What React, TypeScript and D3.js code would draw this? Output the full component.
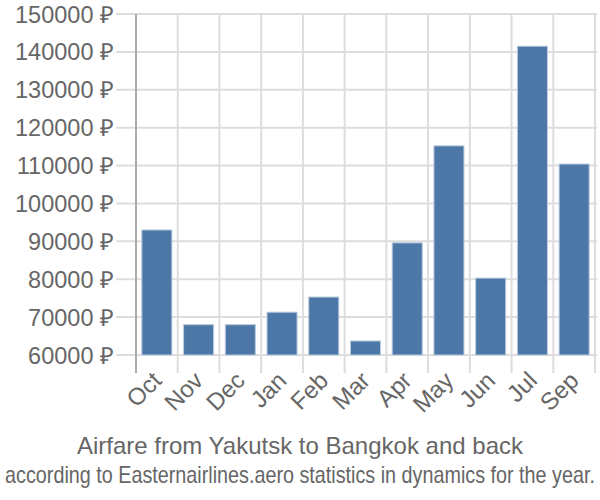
import { useEffect, useRef } from "react";
import * as d3 from "d3";

const months = ["Oct", "Nov", "Dec", "Jan", "Feb", "Mar", "Apr", "May", "Jun", "Jul", "Sep"];
const prices = [93000, 68000, 68000, 71300, 75300, 63700, 89600, 115200, 80300, 141500, 110400];
const yTicks = [60000, 70000, 80000, 90000, 100000, 110000, 120000, 130000, 140000, 150000];

const title = "Airfare from Yakutsk to Bangkok and back";
const subtitle = "according to Easternairlines.aero statistics in dynamics for the year.";

export default function App() {
  const svgRef = useRef<SVGSVGElement>(null);

  useEffect(() => {
    if (!svgRef.current) return;
    const width = 600;
    const left = 136;
    const right = 595;
    const top = 14;
    const base = 355;

    const svg = d3.select(svgRef.current);
    svg.selectAll("*").remove();

    const x = d3.scaleBand().domain(months).range([left, right]).paddingInner(0.28).paddingOuter(0.14);
    const y = d3.scaleLinear().domain([60000, 150000]).range([base, top]);
    const step = x.step();
    const font = "'Liberation Sans', Arial, sans-serif";

    // horizontal grid + tick marks
    svg
      .append("g")
      .selectAll("line")
      .data(yTicks)
      .enter()
      .append("line")
      .attr("x1", left - 20)
      .attr("x2", right + 2)
      .attr("y1", (d) => y(d))
      .attr("y2", (d) => y(d))
      .attr("stroke", "#dddddd")
      .attr("stroke-width", 2);

    // vertical grid
    const vx = months.map((_, i) => left + (i + 1) * step);
    svg
      .append("g")
      .selectAll("line")
      .data(vx)
      .enter()
      .append("line")
      .attr("x1", (d) => d)
      .attr("x2", (d) => d)
      .attr("y1", top)
      .attr("y2", base + 18)
      .attr("stroke", "#dddddd")
      .attr("stroke-width", 2);

    // y axis line
    svg
      .append("line")
      .attr("x1", left)
      .attr("x2", left)
      .attr("y1", top)
      .attr("y2", base + 18)
      .attr("stroke", "#aaaaaa")
      .attr("stroke-width", 2);

    // bars
    svg
      .append("g")
      .selectAll("rect")
      .data(prices)
      .enter()
      .append("rect")
      .attr("x", (_, i) => x(months[i])!)
      .attr("width", x.bandwidth())
      .attr("y", (d) => y(d))
      .attr("height", (d) => base - y(d))
      .attr("fill", "#4c77a6")
      .attr("stroke", "#b9cbe0")
      .attr("stroke-width", 1);

    // y labels
    svg
      .append("g")
      .selectAll("text")
      .data(yTicks)
      .enter()
      .append("text")
      .attr("x", 114)
      .attr("y", (d) => y(d) + 8.5)
      .attr("text-anchor", "end")
      .attr("font-family", font)
      .attr("font-size", 23.5)
      .attr("fill", "#666666")
      .text((d) => `${d} ₽`);

    // x labels
    svg
      .append("g")
      .selectAll("text")
      .data(months)
      .enter()
      .append("text")
      .attr("transform", (d) => `translate(${x(d)! + x.bandwidth() / 2 + 6},${base + 27}) rotate(-45)`)
      .attr("text-anchor", "end")
      .attr("font-family", font)
      .attr("font-size", 24)
      .attr("fill", "#666666")
      .text((d) => d);

    svg
      .append("text")
      .attr("x", width / 2)
      .attr("y", 454)
      .attr("text-anchor", "middle")
      .attr("font-family", font)
      .attr("font-size", 24)
      .attr("fill", "#666666")
      .text(title);

    // subtitle is condensed in the original; squeeze it horizontally to fit
    const sub = svg
      .append("text")
      .attr("x", 0)
      .attr("y", 0)
      .attr("text-anchor", "middle")
      .attr("font-family", font)
      .attr("font-size", 23)
      .attr("fill", "#666666")
      .text(subtitle);
    const natural = (sub.node() as SVGTextElement).getComputedTextLength() || 590;
    const sx = Math.min(1, 590 / natural);
    sub.attr("transform", `translate(${width / 2},483) scale(${sx},1)`);
  }, []);

  return (
    <svg
      ref={svgRef}
      width={600}
      height={500}
      viewBox="0 0 600 500"
      style={{ position: "absolute", left: 0, top: 0, background: "#fff" }}
    />
  );
}
